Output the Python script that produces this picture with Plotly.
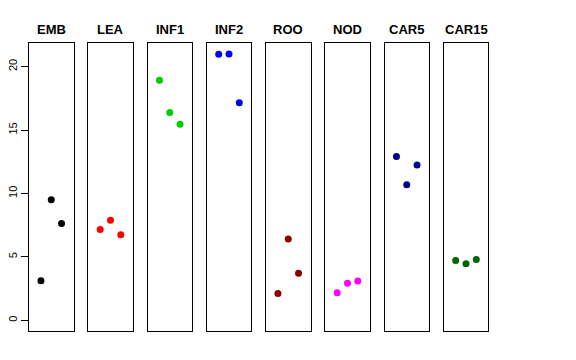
import plotly.graph_objects as go

tissues = ["EMB", "LEA", "INF1", "INF2", "ROO", "NOD", "CAR5", "CAR15"]
replicates = [1, 2, 3]
values = {
    "EMB": [3.13, 9.50, 7.63],
    "LEA": [7.16, 7.89, 6.74],
    "INF1": [18.92, 16.39, 15.45],
    "INF2": [20.97, 21.0, 17.16],
    "ROO": [2.11, 6.42, 3.71],
    "NOD": [2.18, 2.92, 3.11],
    "CAR5": [12.92, 10.68, 12.24],
    "CAR15": [4.71, 4.47, 4.79],
}
colors = ["#000000", "#FF0000", "#00CD00", "#0000FF", "#8B0000", "#FF00FF", "#00008B", "#006400"]
y_ticks = [0, 5, 10, 15, 20]

W, H = 576, 360
left0, step, pw = 29.0, 59.25, 44.5
ydom = [(H - 331) / H, (H - 43.3) / H]

fig = go.Figure()
layout = dict(
    width=W, height=H, margin=dict(l=0, r=0, t=0, b=0, autoexpand=False),
    paper_bgcolor="white", plot_bgcolor="white", showlegend=False,
    font=dict(family="Liberation Sans, Arial, sans-serif", color="black"),
)
annotations = []
for i, (t, c) in enumerate(zip(tissues, colors)):
    xa = "x" if i == 0 else f"x{i+1}"
    ya = "y" if i == 0 else f"y{i+1}"
    fig.add_trace(go.Scatter(
        x=replicates, y=values[t], mode="markers",
        marker=dict(color=c, size=7, line=dict(width=0)),
        xaxis=xa, yaxis=ya, hoverinfo="skip",
    ))
    x0 = (left0 + i * step) / W
    x1 = (left0 + i * step + pw) / W
    kx = "xaxis" if i == 0 else f"xaxis{i+1}"
    ky = "yaxis" if i == 0 else f"yaxis{i+1}"
    layout[kx] = dict(domain=[x0, x1], range=[-0.16, 4.16], showgrid=False, zeroline=False,
                      showticklabels=False, ticks="", showline=True, mirror=True,
                      linecolor="black", linewidth=1, anchor=ya, automargin=False)
    yd = dict(domain=ydom, range=[-0.84, 21.84], showgrid=False, zeroline=False,
              showline=True, mirror=True, linecolor="black", linewidth=1, anchor=xa,
              automargin=False)
    if i == 0:
        yd.update(tickmode="array", tickvals=y_ticks, ticktext=[str(v) for v in y_ticks],
                  ticks="outside", ticklen=7, tickwidth=1, tickcolor="black",
                  tickangle=-90, tickfont=dict(size=11, color="black"))
    else:
        yd.update(showticklabels=False, ticks="")
    layout[ky] = yd
    annotations.append(dict(
        x=(x0 + x1) / 2, y=(H - 29.5) / H, xref="paper", yref="paper",
        text=f"<b>{t}</b>", showarrow=False, xanchor="center", yanchor="middle",
        font=dict(size=13, color="black"),
    ))
layout["annotations"] = annotations
fig.update_layout(**layout)
fig.write_html("out.html", post_script="document.body.style.margin='0';",
               config={"displayModeBar": False})
